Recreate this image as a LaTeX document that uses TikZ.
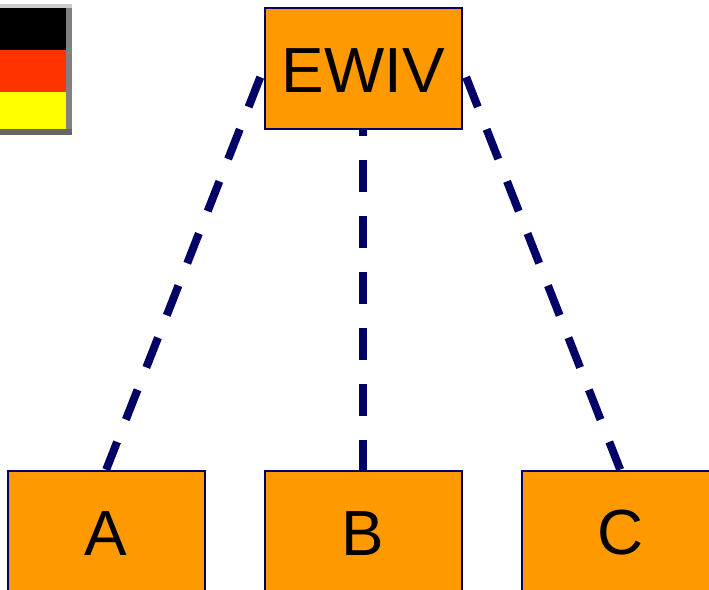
\documentclass[tikz,border=0pt]{standalone}
\usepackage{fontspec}
\setmainfont{Liberation Sans}
\usetikzlibrary{backgrounds}
\definecolor{boxorange}{HTML}{FF9900}
\definecolor{linknavy}{HTML}{000066}
\definecolor{flagred}{HTML}{FF3300}
\definecolor{flagyellow}{HTML}{FFFF00}
\tikzset{
	member/.style={draw=linknavy, fill=boxorange, line width=1.15pt, minimum width=3.94cm, minimum height=2.43cm, inner sep=0pt, text height=27.2pt, font=\fontsize{36.3}{40}\selectfont},
	link/.style={draw=linknavy, line width=4.55pt, dash pattern=on 18.2pt off 13.66pt, dash phase=#1}
}
\begin{document}
\begin{tikzpicture}[x=0.02cm, y=-0.02cm]
	%%%%% START %%%%%
	\useasboundingbox (0, 0) rectangle (709, 590);
	\clip (0, 0) rectangle (709, 590);
	
	% flag
	\fill[black!50] (-10, 4) rectangle (72, 135);
	\fill[black!20] (-10, 4) rectangle (72, 8);
	\fill[black!60] (-10, 129) rectangle (72, 135);
	\fill[black] (-10, 8) rectangle (66, 50);
	\fill[flagred] (-10, 50) rectangle (66, 92.3);
	\fill[flagyellow] (-10, 92.3) rectangle (66, 129);
	
	\node[member] (ewiv) at (363.2, 68.4) {EWIV};
	\node[member] (a) at (106.2, 531.4) {A};
	\node[member] (b) at (363.2, 531.4) {B};
	\node[member] (c) at (620.2, 531.4) {C};
	
	\begin{pgfonlayer}{background}
		\draw[link=26.5pt] (ewiv.west) -- (a.north);
		\draw[link=14.8pt] (ewiv.south) -- (b.north);
		\draw[link=26.5pt] (ewiv.east) -- (c.north);
	\end{pgfonlayer}
	
	%%%%% END %%%%%
\end{tikzpicture}
\end{document}
